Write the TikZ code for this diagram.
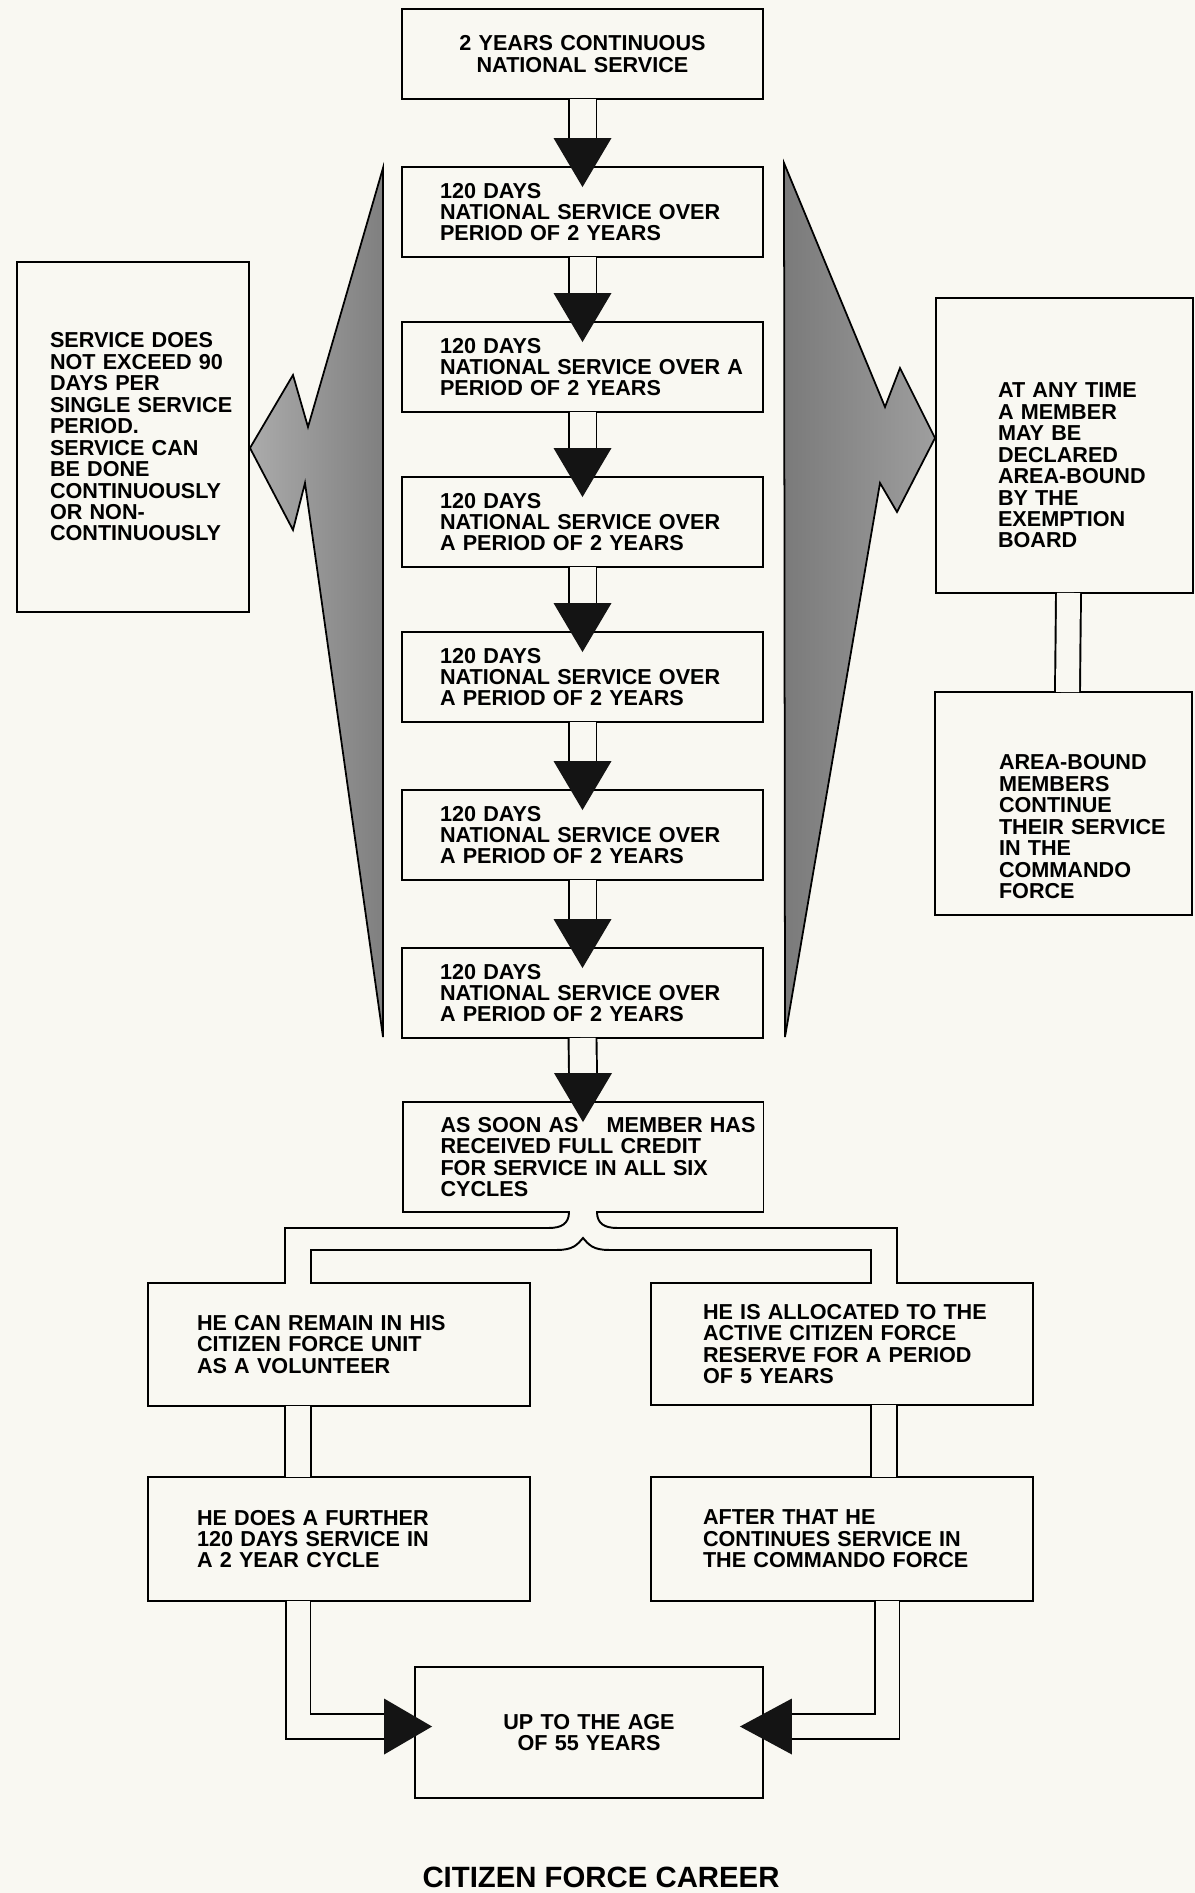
\documentclass[tikz,border=0pt]{standalone}
\usepackage{fontspec}
\setmainfont{Liberation Sans}
\usetikzlibrary{calc}
\definecolor{paper}{RGB}{249,248,242}
\newcommand{\boxfont}{\bfseries\fontsize{12.3}{12.2}\selectfont}

\begin{document}
\begin{tikzpicture}[x=0.02cm, y=-0.02cm,
    box/.style={draw, line width=1.1pt, inner xsep=0pt, inner ysep=0pt, font=\boxfont, align=left},
    pad/.style={execute at begin node={\leftskip=#1\rightskip=-1cm plus 1fil\relax}},
    period/.style={box, pad=0.76cm, text width=7.22cm, minimum height=1.8cm},
    stem/.style={draw, line width=1.1pt, double=paper, double distance=#1},
    stem/.default=0.52cm,
    rail/.style={line width=1.1pt},
    head/.style={fill=black!92},
    wedge/.style={draw, line width=1pt}]

\useasboundingbox (0,0) rectangle (1195,1893);
\fill[paper] (0,0) rectangle (1195,1893);

% grey wedges either side of the chain
\draw[wedge, left color=black!33, right color=black!50] (383,168) -- (308,427) -- (293,375) -- (250,448) -- (293,530) -- (305,483) -- (383,1037) -- cycle;
\draw[wedge, left color=black!52, right color=black!38] (784,163) -- (885,407) -- (900,368) -- (935,438) -- (897,512) -- (880,483) -- (785,1037) -- cycle;

% main chain
\node[box, align=center, text width=7.22cm, minimum height=1.8cm] (nat) at (582.5,54) {2 YEARS CONTINUOUS\\NATIONAL SERVICE};
\node[period] (cyc1) at (582.5,212) {120 DAYS\\NATIONAL SERVICE OVER\\PERIOD OF 2 YEARS};
\node[period] (cyc2) at (582.5,367) {120 DAYS\\NATIONAL SERVICE OVER A\\PERIOD OF 2 YEARS};
\node[period] (cyc3) at (582.5,522) {120 DAYS\\NATIONAL SERVICE OVER\\A PERIOD OF 2 YEARS};
\node[period] (cyc4) at (582.5,677) {120 DAYS\\NATIONAL SERVICE OVER\\A PERIOD OF 2 YEARS};
\node[period] (cyc5) at (582.5,835) {120 DAYS\\NATIONAL SERVICE OVER\\A PERIOD OF 2 YEARS};
\node[period] (cyc6) at (582.5,993) {120 DAYS\\NATIONAL SERVICE OVER\\A PERIOD OF 2 YEARS};
\node[period, minimum height=2.2cm, pad=0.76cm] (credit) at (583,1157) {AS SOON AS\hspace{0.56cm}MEMBER HAS\\RECEIVED FULL CREDIT\\FOR SERVICE IN ALL SIX\\CYCLES};

% side boxes
\node[box, pad=0.66cm, text width=4.64cm, minimum height=7cm] (limit) at (133,437) {SERVICE DOES\\NOT EXCEED 90\\DAYS PER\\SINGLE SERVICE\\PERIOD.\\SERVICE CAN\\BE DONE\\CONTINUOUSLY\\OR NON-\\CONTINUOUSLY};
\node[box, pad=1.24cm, text width=5.14cm, minimum height=5.9cm] (exempt) at (1064.5,445.5) {\rule{0pt}{1.1cm}AT ANY TIME\\A MEMBER\\MAY BE\\DECLARED\\AREA-BOUND\\BY THE\\EXEMPTION\\BOARD};
\node[box, pad=1.28cm, text width=5.14cm, minimum height=4.46cm] (areab) at (1063.5,803.5) {\rule{0pt}{1.23cm}AREA-BOUND\\MEMBERS\\CONTINUE\\THEIR SERVICE\\IN THE\\COMMANDO\\FORCE};

% after the six cycles
\node[box, pad=0.98cm, text width=7.64cm, minimum height=2.46cm] (volunteer) at (339,1344.5) {HE CAN REMAIN IN HIS\\CITIZEN FORCE UNIT\\AS A VOLUNTEER};
\node[box, pad=1.04cm, text width=7.64cm, minimum height=2.44cm] (reserve) at (842,1344) {HE IS ALLOCATED TO THE\\ACTIVE CITIZEN FORCE\\RESERVE FOR A PERIOD\\OF 5 YEARS};
\node[box, pad=0.98cm, text width=7.64cm, minimum height=2.48cm] (further) at (339,1539) {HE DOES A FURTHER\\120 DAYS SERVICE IN\\A 2 YEAR CYCLE};
\node[box, pad=1.04cm, text width=7.64cm, minimum height=2.48cm] (commando) at (842,1539) {AFTER THAT HE\\CONTINUES SERVICE IN\\THE COMMANDO FORCE};
\node[box, align=center, text width=6.96cm, minimum height=2.62cm] (age) at (589,1732.5) {UP TO THE AGE\\OF 55 YEARS};
\node[font=\bfseries\fontsize{16.7}{20}\selectfont] (title) at (601,1877) {CITIZEN FORCE CAREER};

% chain stems and heads
\draw[stem] ($(nat.south)+(0,-1)$) -- ($(cyc1.north)+(0,-28)$);
\fill[head] ($(cyc1.north)+(-29,-28)$) -- ($(cyc1.north)+(29,-28)$) -- ($(cyc1.north)+(0,21)$) -- cycle;
\draw[stem] ($(cyc1.south)+(0,-1)$) -- ($(cyc2.north)+(0,-28)$);
\fill[head] ($(cyc2.north)+(-29,-28)$) -- ($(cyc2.north)+(29,-28)$) -- ($(cyc2.north)+(0,21)$) -- cycle;
\draw[stem] ($(cyc2.south)+(0,-1)$) -- ($(cyc3.north)+(0,-28)$);
\fill[head] ($(cyc3.north)+(-29,-28)$) -- ($(cyc3.north)+(29,-28)$) -- ($(cyc3.north)+(0,21)$) -- cycle;
\draw[stem] ($(cyc3.south)+(0,-1)$) -- ($(cyc4.north)+(0,-28)$);
\fill[head] ($(cyc4.north)+(-29,-28)$) -- ($(cyc4.north)+(29,-28)$) -- ($(cyc4.north)+(0,21)$) -- cycle;
\draw[stem] ($(cyc4.south)+(0,-1)$) -- ($(cyc5.north)+(0,-28)$);
\fill[head] ($(cyc5.north)+(-29,-28)$) -- ($(cyc5.north)+(29,-28)$) -- ($(cyc5.north)+(0,21)$) -- cycle;
\draw[stem] ($(cyc5.south)+(0,-1)$) -- ($(cyc6.north)+(0,-28)$);
\fill[head] ($(cyc6.north)+(-29,-28)$) -- ($(cyc6.north)+(29,-28)$) -- ($(cyc6.north)+(0,21)$) -- cycle;
\draw[stem] ($(cyc6.south)+(0,-1)$) -- ($(credit.north)+(0,-28)$);
\fill[head] ($(credit.north)+(-29,-28)$) -- ($(credit.north)+(29,-28)$) -- ($(credit.north)+(0,21)$) -- cycle;

% right side link
\draw[stem=0.46cm] ($(exempt.south)+(4,-1)$) -- ($(areab.north)+(4,1)$);

% split below the credit box
\fill[paper] ($(credit.south)+(-13,-2)$) rectangle ($(credit.south)+(13,2)$);
\fill[paper] ($(volunteer.north)+(-53,-2)$) rectangle ($(volunteer.north)+(-29,2)$);
\fill[paper] ($(reserve.north)+(30,-2)$) rectangle ($(reserve.north)+(54,2)$);
\draw[rail] ($(credit.south)+(-14,-1)$) .. controls +(0,12) and +(12,0) .. ($(credit.south)+(-34,15)$) -| ($(volunteer.north)+(-54,1)$);
\draw[rail] ($(credit.south)+(14,-1)$) .. controls +(0,12) and +(-12,0) .. ($(credit.south)+(34,15)$) -| ($(reserve.north)+(55,1)$);
\draw[rail] ($(volunteer.north)+(-28,1)$) |- ($(credit.south)+(-26,37)$) .. controls +(16,0) and +(-6,7) .. ($(credit.south)+(0,25)$) .. controls +(6,7) and +(-16,0) .. ($(credit.south)+(26,37)$) -| ($(reserve.north)+(29,1)$);

% down both sides
\draw[stem=0.48cm] ($(volunteer.south)+(-41,-1)$) -- ($(further.north)+(-41,1)$);
\draw[stem=0.48cm] ($(reserve.south)+(42,-1)$) -- ($(commando.north)+(42,1)$);

% into the last box
\draw[stem=0.46cm] ($(further.south)+(-41,-1)$) |- ($(age.west)+(-30,-6)$);
\fill[head] ($(age.west)+(-30,-34)$) -- ($(age.west)+(-30,22)$) -- ($(age.west)+(18,-6)$) -- cycle;
\draw[stem=0.46cm] ($(commando.south)+(45,-1)$) |- ($(age.east)+(28,-6)$);
\fill[head] ($(age.east)+(28,-34)$) -- ($(age.east)+(28,22)$) -- ($(age.east)+(-24,-6)$) -- cycle;
\end{tikzpicture}
\end{document}
